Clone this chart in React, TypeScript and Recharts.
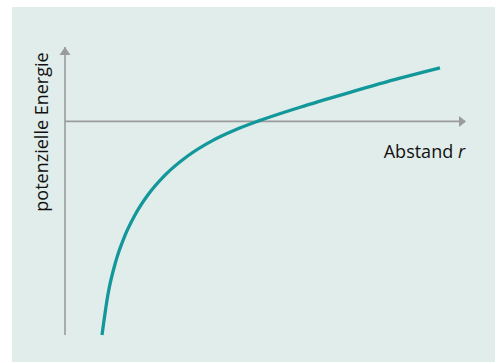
import { Line, LineChart, ReferenceDot, ReferenceLine, XAxis, YAxis } from "recharts"

// distance r (arbitrary units) and potential energy
const distance = [0.925, 1.075, 1.275, 1.5, 1.75, 2.075, 2.5, 3.075, 3.675, 4.25, 4.825, 5.875, 7.125, 8.375, 9.375]
const energy = [-8.9, -7.2, -5.8, -4.75, -3.9, -3.06, -2.24, -1.43, -0.81, -0.36, 0.01, 0.59, 1.21, 1.8, 2.23]

const xLabel = "Abstand"
const xSymbol = "r"
const yLabel = "potenzielle Energie"

const rDomain: [number, number] = [0, 10]
const eDomain: [number, number] = [-8.9, 3.1]

const data = distance.map((r, i) => ({ r, e: energy[i] }))

const AXIS = "#9a9c9b"
const CURVE = "#12979a"
const FONT = "'Open Sans', sans-serif"

const UpArrow = (props: any) => {
  const { cx, cy } = props
  return <path d={`M${cx},${cy} L${cx - 5.5},${cy + 8} L${cx + 5.5},${cy + 8} Z`} fill={AXIS} />
}

const RightArrow = (props: any) => {
  const { cx, cy } = props
  return <path d={`M${cx + 1},${cy} L${cx - 6},${cy - 5.5} L${cx - 6},${cy + 5.5} Z`} fill={AXIS} />
}

export default function App() {
  return (
    <div style={{ position: "absolute", left: 0, top: 0, width: 495, height: 362, background: "#fff", overflow: "hidden" }}>
      <div style={{ position: "absolute", left: 12, top: 7, width: 483, height: 355, background: "#e1edea" }}>
        <LineChart width={483} height={355} data={data} margin={{ top: 40, right: 30, bottom: 27, left: 53 }}>
          <XAxis type="number" dataKey="r" domain={rDomain} hide />
          <YAxis type="number" domain={eDomain} hide />
          <ReferenceLine
            x={0}
            stroke={AXIS}
            strokeWidth={1.6}
            label={{
              content: ({ viewBox }: any) => {
                const x = viewBox.x - 17
                const y = viewBox.y + 85
                return (
                  <text x={x} y={y} transform={`rotate(-90, ${x}, ${y})`} textAnchor="middle" fontFamily={FONT} fontSize={18} fill="#111">
                    {yLabel}
                  </text>
                )
              },
            }}
          />
          <ReferenceLine
            y={0}
            stroke={AXIS}
            strokeWidth={1.6}
            label={{
              content: ({ viewBox }: any) => (
                <text x={viewBox.x + viewBox.width} y={viewBox.y + 37} textAnchor="end" fontFamily={FONT} fontSize={18} fill="#111">
                  {xLabel} <tspan fontStyle="italic">{xSymbol}</tspan>
                </text>
              ),
            }}
          />
          <ReferenceDot x={0} y={eDomain[1]} ifOverflow="visible" shape={UpArrow} />
          <ReferenceDot x={rDomain[1]} y={0} ifOverflow="visible" shape={RightArrow} />
          <Line type="monotone" dataKey="e" stroke={CURVE} strokeWidth={3.3} dot={false} isAnimationActive={false} />
        </LineChart>
      </div>
    </div>
  )
}
